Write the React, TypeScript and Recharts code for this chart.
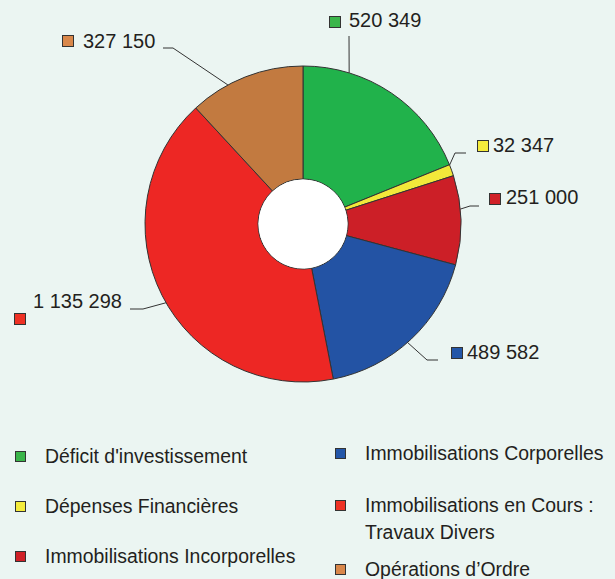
import { PieChart, Pie, Cell } from 'recharts';

const categories = [
  'Déficit d\'investissement',
  'Dépenses Financières',
  'Immobilisations Incorporelles',
  'Immobilisations Corporelles',
  'Immobilisations en Cours : Travaux Divers',
  'Opérations d\u2019Ordre',
];
const values = [520349, 32347, 251000, 489582, 1135298, 327150];
const sliceColors = ['#21b24b', '#f2e83a', '#cc1f27', '#2353a4', '#ed2724', '#c27a40'];
const swatchColors = ['#3ab54a', '#f5ec3c', '#d02027', '#2356a8', '#ee3124', '#d9874a'];

// where each value label sits (leader elbow, swatch, text)
const labelLayout = [
  { shift: 17, kx: 349, ky: 36, ex: 349, bx: 329, by: 16, tx: 349, ty: 27 },
  { shift: 2, kx: 455, ky: 153, ex: 466, bx: 477, by: 140, tx: 493, ty: 152 },
  { shift: 4, kx: 470, ky: 206, ex: 479, bx: 489, by: 193, tx: 506, ty: 204 },
  { shift: -1.6, kx: 427, ky: 360, ex: 438, bx: 451, by: 347, tx: 467, ty: 359 },
  { shift: 3, kx: 143, ky: 309, ex: 130, bx: 14, by: 313, tx: 33, ty: 308 },
  { shift: 7, kx: 173, ky: 48, ex: 163, bx: 62, by: 35, tx: 83, ty: 48 },
];

const legendLayout = [
  { x: 15, y: 463 },
  { x: 15, y: 513 },
  { x: 15, y: 563 },
  { x: 335, y: 460 },
  { x: 335, y: 512 },
  { x: 335, y: 576 },
];

const data = categories.map((name, i) => ({ name, value: values[i] }));
const hole = [{ name: 'hole', value: 1 }];

const RAD = Math.PI / 180;
const fmt = (v: number) => String(v).replace(/\B(?=(\d{3})+(?!\d))/g, ' ');
const ink = '#231f20';

const renderLabel = (p: any) => {
  const L = labelLayout[p.index];
  const a = (p.midAngle + L.shift) * RAD;
  const sx = p.cx + p.outerRadius * Math.cos(a);
  const sy = p.cy - p.outerRadius * Math.sin(a);
  return (
    <g key={`lbl-${p.index}`}>
      <polyline
        points={`${sx},${sy} ${L.kx},${L.ky} ${L.ex},${L.ky}`}
        fill="none"
        stroke="#333"
        strokeWidth={1}
      />
      <rect x={L.bx + 0.5} y={L.by + 0.5} width={11} height={11} fill={swatchColors[p.index]} stroke="#333" strokeWidth={1} />
      <text x={L.tx} y={L.ty} fill={ink} fontSize={20} fontFamily="'Liberation Sans', Arial, sans-serif">
        {fmt(values[p.index])}
      </text>
    </g>
  );
};

function LegendBlock() {
  return (
    <svg width={615} height={579} style={{ position: 'absolute', left: 0, top: 0, pointerEvents: 'none' }}>
      {categories.map((name, i) => {
        const pos = legendLayout[i];
        const lines = name.includes(' : ')
          ? [name.slice(0, name.indexOf(' : ') + 2), name.slice(name.indexOf(' : ') + 3)]
          : [name];
        return (
          <g key={name}>
            <rect x={pos.x + 0.5} y={pos.y - 11.5} width={10} height={10} fill={swatchColors[i]} stroke="#333" strokeWidth={1} />
            <text
              transform={`translate(${pos.x + 30},${pos.y}) scale(0.925,1)`}
              fill={ink}
              fontSize={21}
              fontFamily="'Liberation Sans', Arial, sans-serif"
            >
              {lines.map((ln, j) => (
                <tspan key={j} x={0} dy={j === 0 ? 0 : 27}>
                  {ln}
                </tspan>
              ))}
            </text>
          </g>
        );
      })}
    </svg>
  );
}

export default function App() {
  return (
    <div
      style={{
        position: 'absolute',
        left: 0,
        top: 0,
        width: 615,
        height: 579,
        background: '#ebf5f2',
        overflow: 'hidden',
      }}
    >
      <PieChart width={615} height={579} margin={{ top: 0, right: 0, bottom: 0, left: 0 }}>
        <Pie
          data={data}
          dataKey="value"
          nameKey="name"
          cx={303}
          cy={224}
          outerRadius={158}
          innerRadius={45}
          startAngle={90}
          endAngle={-270}
          stroke="#333"
          strokeWidth={1}
          label={renderLabel}
          labelLine={false}
          isAnimationActive={false}
        >
          {data.map((d, i) => (
            <Cell key={d.name} fill={sliceColors[i]} />
          ))}
        </Pie>
        <Pie
          data={hole}
          dataKey="value"
          cx={303}
          cy={224}
          outerRadius={44.5}
          fill="#ffffff"
          stroke="none"
          isAnimationActive={false}
        />
      </PieChart>
      <LegendBlock />
    </div>
  );
}
